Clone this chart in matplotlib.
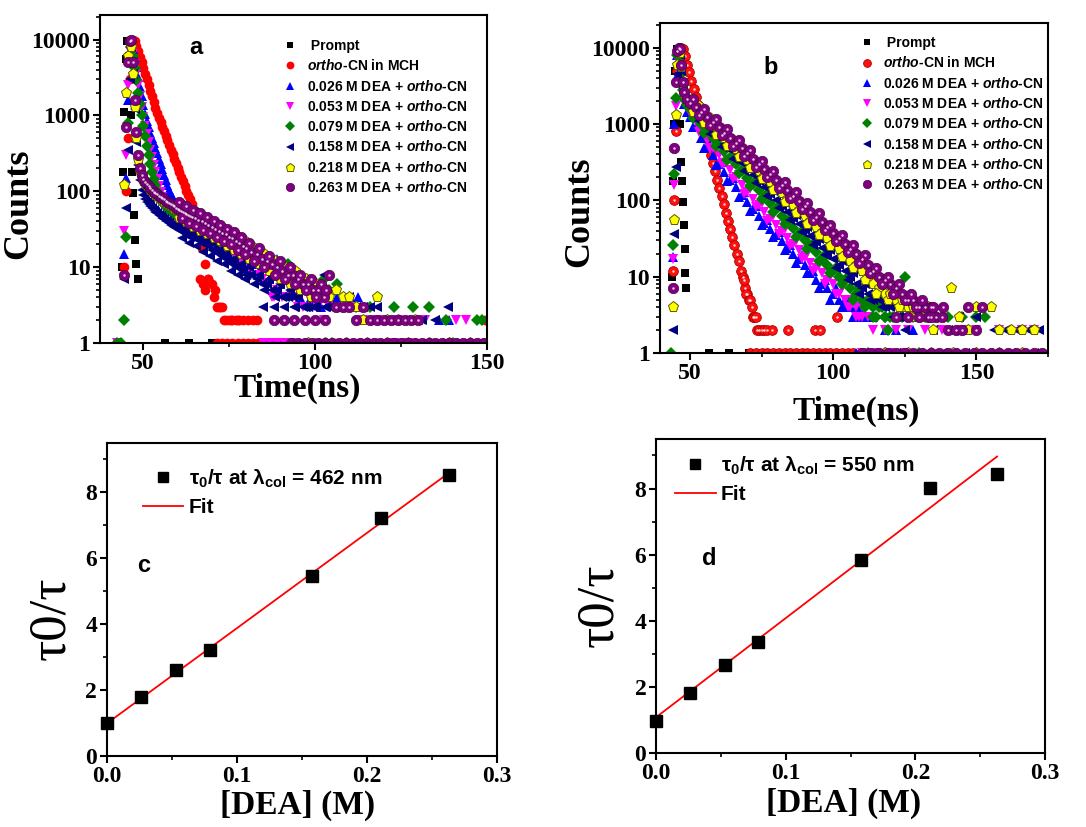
import numpy as np
import matplotlib.pyplot as plt
from matplotlib.ticker import LogLocator, NullFormatter, FixedLocator

plt.rcParams.update({
    'font.family': 'Liberation Serif',
    'font.weight': 'bold',
    'mathtext.fontset': 'custom',
    'mathtext.rm': 'Liberation Sans:bold',
    'mathtext.it': 'Liberation Sans:italic:bold',
    'mathtext.bf': 'Liberation Sans:bold',
    'axes.linewidth': 1.5,
})

nan = float('nan')

# ---------------- panel a : decays, lambda_col = 462 nm ----------------
ta = [44.6, 45.1, 45.6, 46.1, 46.6, 47.1, 47.6, 48.1, 48.6, 49.1,
      49.6, 50.1, 50.6, 51.1, 51.6, 52.1, 52.6, 53.1, 53.6, 54.1,
      54.6, 55.1, 55.6, 56.1, 56.6, 57.1, 57.6, 58.1, 58.6, 59.1,
      59.6, 60.1, 60.6, 61.1, 61.6, 62.1, 62.6, 63.1, 63.6, 64.1,
      65, 66, 67, 68, 69, 70, 71, 72, 73, 74, 75, 76, 77, 78, 79, 80,
      81.5, 83, 84.5, 86, 87.5, 89, 90.5, 92, 93.5, 95, 96.5, 98, 99.5, 101, 102.5, 104]

red_a = [10, 100, 500, 3000, 8000, 9800, 9500, 8300, 7000, 5900, 5000, 4200, 3500, 3000, 2500, 2100, 1800, 1500, 1250, 1070,
         930, 810, 700, 620, 540, 470, 410, 355, 310, 270, 235, 205, 178, 155, 135, 118, 102, 89, 78, 68,
         50, 30, 18, 11, 7, 6, 5, 3, 3, 2, 2, 2, 2, 2, 2, nan, nan, 2, nan, nan, nan, nan, nan, nan, nan, nan, nan, nan, nan, nan, nan, nan]
blue_a = [15, 150, 1600, 6000, 9000, 7500, 5800, 4300, 3200, 2400, 1800, 1350, 1050, 850, 700, 590, 500, 430, 370, 315,
          270, 230, 195, 165, 140, 120, 104, 92, 82, 74, 68, 63, 59, 56, 53, 50, 48, 46, 44, 42,
          40, 37, 35, 32, 30, 28, 26, 24, 22, 21, 19, 18, 17, 15, 14, 13, 12, 11, 10, 14, 9, 13, 8, 7, 7, 6, 6, 5, 5, 4, 6, 4]
magenta_a = [30, 300, 2500, 7000, 8500, 6500, 4800, 3500, 2500, 1800, 1300, 950, 720, 560, 440, 350, 280, 225, 180, 145,
             118, 98, 84, 74, 66, 60, 56, 52, 49, 46, 44, 42, 40, 38, 37, 35, 34, 33, 32, 31,
             30, 28, 26, 24, 22, 20, 19, 17, 16, 15, 14, 13, 12, 11, 10, 9, 8, 8, 7, 6, 4, 5, 4, 4, 4, 3, 3, 3, 3, 3, 2, 3]
green_a = [2, 25, 800, 5000, 8000, 6000, 4200, 2900, 2000, 1400, 1000, 720, 530, 400, 300, 230, 180, 145, 120, 102,
           90, 80, 73, 68, 64, 60, 57, 54, 52, 50, 48, 46, 44, 43, 41, 40, 39, 37, 36, 35,
           34, 51, 31, 29, 27, 26, 24, 23, 21, 20, 19, 18, 23, 16, 15, 14, 13, 12, 11, 10, 9, 9, 8, 11, 7, 6, 6, 5, 5, 5, 7, 5]
navy_a = [7, 60, 350, 3000, 8000, 3500, 1200, 450, 220, 140, 105, 88, 78, 72, 67, 63, 60, 57, 54, 51,
          49, 47, 45, 43, 41, 40, 38, 36, 35, 34, 33, 32, 31, 30, 29, 28, 27, 26, 25, 25,
          24, 23, 21, 20, 19, 17, 16, 15, 14, 13, 12, 11, 10, 10, 9, 8, 8, 7, 6, 6, 5, 5, 4, 4, 4, 4, 3, 3, 3, 4, 8, 3]
yellow_a = [120, 2000, 6000, 9000, 8000, 3500, 1300, 500, 260, 180, 150, 135, 125, 117, 110, 104, 99, 94, 90, 86,
            82, 79, 76, 73, 70, 68, 66, 63, 61, 59, 57, 55, 53, 52, 50, 49, 47, 46, 44, 43,
            41, 39, 37, 35, 33, 31, 29, 28, 26, 25, 23, 22, 21, 19, 18, 17, 15, 14, 12, 11, 10, 9, 8, 8, 7, 8, 6, 5, 5, 4, 4, 4]
purple_a = [8, 700, 5000, 9500, 10000, 5000, 1600, 600, 300, 200, 165, 145, 132, 123, 116, 110, 104, 99, 95, 91,
            87, 84, 81, 78, 75, 72, 70, 67, 65, 63, 61, 59, 57, 55, 53, 52, 50, 49, 47, 46,
            44, 42, 40, 38, 36, 34, 32, 30, 28, 27, 25, 24, 22, 21, 19, 18, 16, 15, 13, 12, 11, 10, 9, 8, 8, 7, 6, 6, 5, 5, 4, 8]

# in-between channels of the slow tail (scatter of the counts)
ta2 = [60.35, 61.35, 62.35, 63.35, 64.5, 65.5, 66.5, 67.5, 68.5, 69.5, 70.5, 71.5, 72.5, 73.5, 74.5, 75.5,
       76.5, 77.5, 78.5, 79.5, 80.75, 82.25, 83.75, 85.25, 86.75, 88.25, 89.75, 91.25, 92.75, 94.25,
       95.75, 97.25, 98.75, 100.25, 101.75, 103.25]
purple_a2 = [72, 44, 63, 38, 56, 35, 51, 31, 46, 28, 41, 25, 36, 22, 32, 20, 29, 17, 25, 15,
             21, 12, 18, 10, 14, 8, 12, 7, 10, 6, 8, 5, 7, 4, 6, 5]
yellow_a2 = [44, 65, 39, 57, 34, 50, 30, 45, 27, 40, 24, 36, 22, 32, 19, 28, 17, 25, 15, 22,
             13, 18, 11, 15, 9, 12, 7, 10, 6, 9, 5, 7, 4, 6, 4, 5]
navy_a2 = [38, 24, 33, 21, 29, 19, 26, 16, 23, 14, 20, 12, 17, 11, 15, 9, 13, 8, 11, 7,
           10, 6, 8, 5, 7, 4, 6, 4, 5, 3, 5, 3, 4, 3, 4, 3]
blue_a2 = [48, 68, 40, 55, 33, 48, 29, 42, 25, 37, 22, 32, 19, 28, 16, 24, 14, 20, 12, 17,
           10, 14, 9, 12, 7, 10, 6, 9, 5, 7, 4, 6, 4, 5, 3, 5]

prompt_a_t = [43.8, 44.2, 44.6, 45.0, 45.4, 46.0, 46.6, 46.9, 47.2, 47.5, 47.8, 48.1, 48.4, 56.5, 63.5, 70.0]
prompt_a_c = [10, 180, 1100, 5500, 9500, 6000, 1000, 180, 95, 48, 23, 11, 7, 1, 1, 1]

# sparse low-count points (2-8 counts) beyond the main decays
red_a_xt = [66.5, 67.5, 68.0, 69.0, 70.5, 71.5, 72.5, 73.5, 75.5, 77.5, 80.5, 82.0, 149.5]
red_a_xc = [7, 6, 5, 7, 4, 3, 3, 2, 2, 2, 2, 2, 2]
blue_a_xt = [106.5, 109, 112.5, 117, 121, 125, 130, 136, 139]
blue_a_xc = [4, 3, 4, 2, 2, 2, 2, 2, 2]
magenta_a_xt = [88, 106, 110, 114, 118, 124, 132, 141, 144]
magenta_a_xc = [4, 3, 3, 2, 2, 2, 2, 2, 2]
green_a_xt = [106.5, 112, 116, 123, 128.5, 133, 138, 147, 148.5]
green_a_xc = [6, 3, 3, 3, 3, 3, 2, 2, 2]
navy_a_xt = [85, 88, 91, 94, 97, 100, 103, 106, 108, 110, 112, 114, 116, 118, 120, 126, 131, 135, 138.5]
navy_a_xc = [3, 3, 3, 3, 3, 3, 3, 3, 3, 4, 3, 3, 3, 3, 2, 2, 2, 2, 3]
yellow_a_xt = [106, 108, 110, 112, 114, 118, 121, 124, 129]
yellow_a_xc = [5, 4, 4, 3, 2, 4, 2, 2, 2]
purple_a_xt = [88, 91, 94, 97, 100, 103, 106, 108, 110, 112, 114, 116, 118, 120, 122, 124, 126, 128, 130]
purple_a_xc = [2, 2, 2, 2, 2, 2, 3, 3, 3, 2, 3, 2, 2, 2, 2, 2, 2, 2, 2]

# times of single-count channels (count = 1)
red_a_one = [71.5, 73, 74.5, 76, 77.5, 79, 80.5, 82, 83.5, 85, 148.5]
blue_a_one = [86, 88, 90, 92, 100, 118]
magenta_a_one = [42.5, 85, 87, 89, 91, 93, 123, 127]
green_a_one = [42.5, 43.5, 105, 140]
navy_a_one = [96, 100, 104, 108, 112, 116, 120, 124, 128, 132, 136, 140, 144, 148]
yellow_a_one = [98, 103, 109, 115, 121, 127, 133, 139, 145]
purple_a_one = [93, 95, 97, 99, 101, 103, 105, 107, 109, 111, 113, 115, 117, 119, 121,
                123, 125, 127, 129, 131, 133, 135, 137, 139, 141, 143, 145, 147, 149]

# ---------------- panel b : decays, lambda_col = 550 nm ----------------
tb = [44.0, 44.5, 45.0, 45.5, 46.0, 46.5, 47.0, 47.5, 48.0, 49.0,
      50, 52, 54, 56, 58, 60, 62, 64, 66, 68, 70, 72, 74, 76, 78, 80, 82, 84, 86, 88,
      90, 92, 94, 96, 98, 100, 102, 104, 106, 108, 110, 112, 114, 116, 118, 120, 122, 124, 126, 128,
      130, 132, 134, 136]
blue_b = [18, 1000, 4000, 8000, 9500, 7000, 4000, 2400, 1800, 1450,
          1250, 900, 660, 500, 390, 300, 235, 185, 148, 118, 95, 78, 63, 51, 42, 35, 29, 24, 20, 17,
          14, 11, 9, 8, 7, 6, 5, 4, 4, 3, 3, nan, nan, nan, nan, nan, nan, nan, nan, nan,
          nan, nan, nan, nan]
magenta_b = [17, 160, 1700, 7000, 9000, 7500, 4500, 2700, 2000, 1600,
             1400, 1050, 800, 620, 490, 390, 310, 250, 200, 160, 130, 105, 86, 70, 57, 47, 39, 32, 27, 22,
             18, 15, 13, 11, 9, 8, 6, 5, 4, 4, 3, 3, nan, nan, nan, nan, nan, nan, nan, nan,
             nan, nan, nan, nan]
green_b = [26, 220, 2200, 8000, 9500, 7500, 4500, 2800, 2100, 1750,
           1550, 1250, 1000, 810, 660, 540, 440, 360, 295, 240, 198, 163, 135, 111, 92, 76, 63, 52, 43, 36,
           30, 25, 21, 17, 14, 12, 10, 9, 7, 6, 5, 5, 4, 4, 3, 3, nan, nan, nan, nan,
           nan, nan, nan, nan]
navy_b = [2, 36, 270, 4500, 9000, 8000, 5000, 3000, 2300, 1900,
          1700, 1400, 1150, 950, 790, 650, 540, 450, 370, 310, 255, 215, 178, 148, 122, 102, 85, 71, 59, 49,
          41, 34, 28, 24, 20, 17, 14, 12, 10, 8, 7, 6, 5, 5, 4, 4, 3, 3, 3, nan,
          nan, nan, nan, nan]
yellow_b = [4, 55, 1300, 6000, 9500, 8500, 5500, 3300, 2500, 2050,
            1800, 1550, 1300, 1100, 930, 780, 660, 560, 470, 400, 335, 285, 240, 205, 172, 146, 123, 104, 88, 74,
            63, 53, 45, 38, 32, 27, 23, 19, 16, 14, 12, 10, 8, 7, 6, 6, 5, 4, 4, 4,
            3, 3, 3, 3]
purple_b = [7, 480, 3500, 9000, 10000, 9500, 6000, 3500, 2600, 2150,
            1900, 1650, 1420, 1220, 1050, 900, 770, 660, 560, 480, 410, 350, 300, 255, 218, 185, 158, 135, 115, 98,
            84, 71, 61, 52, 44, 37, 32, 27, 23, 20, 17, 14, 12, 10, 9, 8, 7, 6, 5, 5,
            4, 4, 4, 3]

# odd channels (scatter of the counts around the decays)
tb2 = [51, 53, 55, 57, 59, 61, 63, 65, 67, 69, 71, 73, 75, 77, 79, 81, 83, 85, 87, 89,
       91, 93, 95, 97, 99, 101, 103, 105, 107, 109, 111, 113, 115, 117, 119, 121, 123, 125, 127, 129,
       131, 133, 135]
blue_b2 = [900, 925, 490, 530, 290, 320, 177, 198, 112, 127, 73, 84, 48, 55, 33, 38, 22, 26, 15, 19,
           11, 12, 7, 9, 5, 7, 4, 5, 3, 4, nan, nan, nan, nan, nan, nan, nan, nan, nan, nan,
           nan, nan, nan]
magenta_b2 = [1450, 780, 845, 470, 525, 295, 335, 190, 215, 122, 140, 81, 93, 54, 62, 36, 42, 25, 29, 17,
              20, 12, 14, 8, 10, 6, 7, 4, 5, 3, 4, nan, nan, nan, nan, nan, nan, nan, nan, nan,
              nan, nan, nan]
green_b2 = [1180, 1340, 765, 880, 507, 585, 338, 390, 226, 262, 153, 178, 104, 121, 71, 83, 49, 57, 33, 39,
            23, 27, 16, 19, 11, 13, 8, 10, 5, 7, 4, 5, 3, 4, 2, nan, nan, nan, nan, nan,
            nan, nan, nan]
navy_b2 = [1850, 1080, 1250, 735, 860, 505, 590, 347, 405, 240, 280, 166, 195, 114, 134, 79, 93, 55, 65, 38,
           45, 26, 31, 19, 22, 13, 16, 9, 11, 6, 8, 5, 6, 4, 5, 3, 4, 2, nan, nan,
           nan, nan, nan]
yellow_b2 = [1420, 1700, 1020, 1210, 725, 860, 520, 620, 370, 440, 262, 315, 188, 225, 135, 160, 96, 115, 69, 82,
             49, 59, 35, 42, 25, 30, 18, 21, 13, 16, 9, 11, 6, 8, 5, 7, 4, 5, 3, 4,
             3, 4, 2]
purple_b2 = [2100, 1300, 1580, 960, 1170, 710, 860, 520, 620, 380, 455, 275, 330, 200, 240, 145, 175, 106, 127, 77,
             93, 56, 68, 41, 48, 29, 35, 21, 26, 15, 19, 11, 13, 8, 10, 6, 8, 5, 6, 4,
             5, 3, 4]

tb_red = [44.0, 44.5, 45.0, 45.5, 46.0, 46.5, 47.0, 47.5, 48.25, 49.0, 49.75, 50.5, 51.25, 52.0, 52.75,
          53.5, 54.25, 55.0, 55.75, 56.5, 57.25, 58.0, 58.75, 59.5, 60.25, 61.0, 61.75, 62.5, 63.25,
          64.0, 64.75, 65.5, 66.25, 67.0, 67.75, 68.5, 69.25, 70.0]
red_b = [12, 100, 800, 5000, 9000, 10000, 10000, 9500, 7800, 6000, 4750, 3700, 2900, 2250, 1750,
         1370, 1070, 830, 650, 500, 395, 307, 240, 187, 146, 114, 89, 69, 54,
         42, 33, 26, 20, 16, 12, 10, 7, 6]

prompt_b_t = [43.6, 44.0, 44.4, 44.8, 45.3, 46.0, 46.6, 46.9, 47.2, 47.5, 47.8, 48.1, 48.4, 48.7, 56.5, 63.5, 70.5]
prompt_b_c = [10, 180, 1000, 5000, 9500, 6000, 1000, 320, 180, 95, 48, 23, 11, 7, 1, 1, 1]

red_b_xt = [68.8, 69.5, 70.5, 71, 71.5, 72, 72.5, 73, 73.5, 74, 75, 76, 77, 78.5, 84.3, 93.6, 95.5, 101.2]
red_b_xc = [9, 6, 5, 5, 4, 3, 3, 3, 2, 2, 2, 2, 2, 2, 2, 2, 2, 3]
blue_b_xt = [104, 106, 108, 111, 114, 118, 122, 128]
blue_b_xc = [5, 4, 4, 3, 3, 2, 2, 2]
magenta_b_xt = [108, 110, 114, 118, 122, 126, 132, 138, 145, 150, 158, 166, 170]
magenta_b_xc = [3, 4, 2, 2, 2, 2, 2, 2, 2, 2, 2, 2, 2]
green_b_xt = [114, 118, 121, 124, 125, 128, 132, 136, 140, 145, 150, 153]
green_b_xc = [3, 3, 3, 3, 10, 3, 3, 3, 3, 3, 3, 3]
navy_b_xt = [123, 127, 131, 135, 140, 144, 150, 156, 160, 164, 168, 172]
navy_b_xc = [3, 3, 3, 2, 2, 3, 3, 2, 2, 2, 2, 2]
yellow_b_xt = [120, 124, 128, 131, 135, 138, 141, 144, 147, 150, 155, 158, 162, 166, 170]
yellow_b_xc = [6, 5, 4, 3, 3, 3, 7, 3, 2, 4, 4, 2, 2, 2, 2]
purple_b_xt = [122, 126, 130, 134, 138, 138.5, 140, 143, 145, 147, 150, 152]
purple_b_xc = [3, 3, 3, 3, 3, 4, 2, 2, 2, 4, 2, 4]

red_b_one = [71, 73, 75, 77, 79, 81, 83, 85, 87, 89, 91, 93, 95, 97, 99, 101, 103, 105, 107]
blue_b_one = [108, 112, 116, 120, 124]
magenta_b_one = [110, 115, 120, 125]
green_b_one = [43.5, 112, 118, 130]
navy_b_one = [114, 122, 130, 138, 146, 154, 162, 170]
yellow_b_one = [118, 126, 134, 142, 150, 158, 166]
purple_b_one = [110, 113, 116, 119, 122, 125, 128, 131, 134, 137, 140, 143, 146, 149,
                152, 155, 158, 161, 164, 167, 170, 173]

count_ticks = [1, 10, 100, 1000, 10000]
count_labels = ['1', '10', '100', '1000', '10000']

legend_labels = [' Prompt',
                 r'$\mathit{ortho}$-CN in MCH',
                 r'0.026 M DEA + $\mathit{ortho}$-CN',
                 r'0.053 M DEA + $\mathit{ortho}$-CN',
                 r'0.079 M DEA + $\mathit{ortho}$-CN',
                 r'0.158 M DEA + $\mathit{ortho}$-CN',
                 r'0.218 M DEA + $\mathit{ortho}$-CN',
                 r'0.263 M DEA + $\mathit{ortho}$-CN']

# ---------------- panels c, d : Stern-Volmer ----------------
dea = [0.0, 0.026, 0.053, 0.079, 0.158, 0.211, 0.263]
ratio_c = [1.0, 1.78, 2.62, 3.22, 5.47, 7.22, 8.52]
ratio_d = [0.98, 1.82, 2.65, 3.37, 5.85, 8.02, 8.45]
fit_x = [0.0, 0.263]
fit_c = [0.99, 8.59]
fit_d = [1.08, 8.97]

# ---------------- styles ----------------
styles = [
    dict(marker='s', mfc='black', mec='black', ms=6, mew=0),
    dict(marker='o', mfc='#ff0000', mec='#ff0000', ms=7, mew=0),
    dict(marker='^', mfc='#0000ff', mec='#0000ff', ms=7.5, mew=0),
    dict(marker='v', mfc='#ff00ff', mec='#ff00ff', ms=7.5, mew=0),
    dict(marker='D', mfc='#008000', mec='#008000', ms=6, mew=0),
    dict(marker='<', mfc='#000080', mec='#000080', ms=7.5, mew=0),
    dict(marker='p', mfc='#ffff00', mec='#5a5a00', ms=8, mew=0.7),
    dict(marker='o', mfc='#800080', mec='#4a004a', ms=7.5, mew=0.5),
]
red_b_style = dict(marker='o', mfc='#ff1010', mec='#b00000', ms=7, mew=0.6)


def ones(t):
    return [1] * len(t)


fig = plt.figure(figsize=(10.86, 8.27), dpi=100)
ax_a = fig.add_axes([0.0921, 0.5852, 0.3564, 0.3966])
ax_b = fig.add_axes([0.6077, 0.5732, 0.3573, 0.3990])
ax_c = fig.add_axes([0.0985, 0.0859, 0.3591, 0.3785])
ax_d = fig.add_axes([0.6041, 0.0895, 0.3582, 0.3797])


def style_ticks(ax):
    ax.tick_params(which='major', direction='out', length=5, width=1.5, labelsize=17, pad=2,
                   top=False, right=False)
    ax.tick_params(which='minor', direction='out', length=3, width=1.2, top=False, right=False)


def decay_panel(ax, series, xlim, xminor, leg_xy, letter, letter_xy):
    handles = []
    for parts, sty in series:
        for k, (t, c) in enumerate(parts):
            h, = ax.plot(t, c, ls='none', **sty)
            if k == 0:
                handles.append(h)
        if sty['marker'] == 'o' and sty['mew'] > 0:
            # white highlight of the sphere-like symbols
            for t, c in parts:
                ax.plot(t, c, ls='none', marker='o', ms=1.8, mfc='white', mec='none', alpha=0.8)
    ax.set_yscale('log', nonpositive='mask')
    ax.set_xlim(*xlim)
    ax.set_ylim(1, 21000)
    ax.set_xticks([50, 100, 150])
    ax.xaxis.set_minor_locator(FixedLocator(xminor))
    ax.set_yticks(count_ticks, labels=count_labels)
    ax.yaxis.set_minor_locator(LogLocator(base=10, subs=np.arange(2, 10)))
    ax.yaxis.set_minor_formatter(NullFormatter())
    style_ticks(ax)
    ax.set_xlabel('Time(ns)', fontsize=24, fontweight='bold')
    ax.set_ylabel('Counts', fontsize=26, fontweight='bold')
    ax.legend(handles, legend_labels, loc='upper left', bbox_to_anchor=leg_xy, frameon=False,
              borderpad=0, borderaxespad=0, handlelength=1.0, handletextpad=0.7, labelspacing=0.38,
              numpoints=1, markerscale=0.8,
              prop=dict(family='Liberation Sans', weight='bold', size=10))
    ax.text(*letter_xy, letter, transform=ax.transAxes, ha='center', va='center',
            fontsize=17, fontweight='bold', family='Liberation Sans')


series_a = [
    ([(prompt_a_t, prompt_a_c)], styles[0]),
    ([(ta, red_a), (red_a_xt, red_a_xc), (red_a_one, ones(red_a_one))], styles[1]),
    ([(ta, blue_a), (ta2, blue_a2), (blue_a_xt, blue_a_xc), (blue_a_one, ones(blue_a_one))], styles[2]),
    ([(ta, magenta_a), (magenta_a_xt, magenta_a_xc), (magenta_a_one, ones(magenta_a_one))], styles[3]),
    ([(ta, green_a), (green_a_xt, green_a_xc), (green_a_one, ones(green_a_one))], styles[4]),
    ([(ta, navy_a), (ta2, navy_a2), (navy_a_xt, navy_a_xc), (navy_a_one, ones(navy_a_one))], styles[5]),
    ([(ta, yellow_a), (ta2, yellow_a2), (yellow_a_xt, yellow_a_xc), (yellow_a_one, ones(yellow_a_one))], styles[6]),
    ([(ta, purple_a), (ta2, purple_a2), (purple_a_xt, purple_a_xc), (purple_a_one, ones(purple_a_one))], styles[7]),
]
series_b = [
    ([(prompt_b_t, prompt_b_c)], styles[0]),
    ([(tb_red, red_b), (red_b_xt, red_b_xc), (red_b_one, ones(red_b_one))], red_b_style),
    ([(tb, blue_b), (tb2, blue_b2), (blue_b_xt, blue_b_xc), (blue_b_one, ones(blue_b_one))], styles[2]),
    ([(tb, magenta_b), (tb2, magenta_b2), (magenta_b_xt, magenta_b_xc), (magenta_b_one, ones(magenta_b_one))], styles[3]),
    ([(tb, green_b), (tb2, green_b2), (green_b_xt, green_b_xc), (green_b_one, ones(green_b_one))], styles[4]),
    ([(tb, navy_b), (tb2, navy_b2), (navy_b_xt, navy_b_xc), (navy_b_one, ones(navy_b_one))], styles[5]),
    ([(tb, yellow_b), (tb2, yellow_b2), (yellow_b_xt, yellow_b_xc), (yellow_b_one, ones(yellow_b_one))], styles[6]),
    ([(tb, purple_b), (tb2, purple_b2), (purple_b_xt, purple_b_xc), (purple_b_one, ones(purple_b_one))], styles[7]),
]

decay_panel(ax_a, series_a, (37.5, 150), [75, 125], (0.473, 0.927), 'a', (0.248, 0.902))
decay_panel(ax_b, series_b, (39.5, 175), [75, 125, 175], (0.515, 0.960), 'b', (0.284, 0.864))
ax_a.xaxis.set_label_coords(0.509, -0.09)
ax_a.yaxis.set_label_coords(-0.168, 0.424)
ax_b.xaxis.set_label_coords(0.505, -0.13)
ax_b.yaxis.set_label_coords(-0.165, 0.427)


def sv_panel(ax, ratio, fit, nm, leg_xy, letter, letter_xy):
    h1, = ax.plot(dea, ratio, ls='none', marker='s', ms=8.5, mfc='black', mec='black', clip_on=False, zorder=3)
    h2, = ax.plot(fit_x, fit, color='#ff0000', lw=1.3)
    ax.set_xlim(0, 0.3)
    ax.set_ylim(0, 9.5)
    ax.set_xticks([0, 0.1, 0.2, 0.3], labels=['0.0', '0.1', '0.2', '0.3'])
    ax.xaxis.set_minor_locator(FixedLocator([0.05, 0.15, 0.25]))
    ax.set_yticks([0, 2, 4, 6, 8])
    ax.yaxis.set_minor_locator(FixedLocator([1, 3, 5, 7, 9]))
    style_ticks(ax)
    ax.set_xlabel('[DEA] (M)', fontsize=24, fontweight='bold')
    ax.set_ylabel('τ0/τ', fontsize=38, fontweight='normal')
    ax.legend([h1, h2], [r'τ$_0$/τ at λ$_{\mathbf{col}}$ = ' + nm + ' nm', 'Fit'],
              loc='upper left', bbox_to_anchor=leg_xy, frameon=False, borderpad=0, borderaxespad=0,
              handlelength=1.95, handletextpad=0.25, labelspacing=0.4, numpoints=1, markerscale=0.85,
              prop=dict(family='Liberation Sans', weight='bold', size=15))
    ax.text(*letter_xy, letter, transform=ax.transAxes, ha='center', va='center',
            fontsize=17, fontweight='bold', family='Liberation Sans')


sv_panel(ax_c, ratio_c, fit_c, '462', (0.092, 0.922), 'c', (0.095, 0.610))
sv_panel(ax_d, ratio_d, fit_d, '550', (0.049, 0.951), 'd', (0.136, 0.618))
ax_c.xaxis.set_label_coords(0.488, -0.109)
ax_c.yaxis.set_label_coords(-0.082, 0.44)
ax_d.xaxis.set_label_coords(0.483, -0.111)
ax_d.yaxis.set_label_coords(-0.085, 0.471)

fig.savefig('out.png', dpi=100)
